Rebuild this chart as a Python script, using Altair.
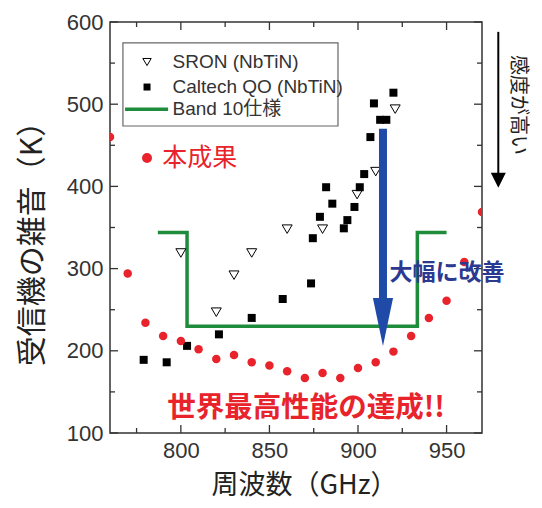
import altair as alt
import pandas as pd

# ---------------- data ----------------
ours_freq = [760, 770, 780, 790, 800, 810, 820, 830, 840, 850, 860,
             870, 880, 890, 900, 910, 920, 930, 940, 950, 960, 970]
ours_trx = [460, 294, 234, 218, 212, 202, 190, 195, 186, 182, 175,
            167, 173, 167, 179, 186, 199, 218, 240, 261, 308, 369]

caltech_freq = [779, 792, 803.5, 821.5, 840, 857.5, 873.5, 874.5, 878.5, 882, 885.5,
                892, 894, 898, 901, 903.5, 907, 909, 912.5, 916, 920]
caltech_trx = [189, 186, 206, 220, 240, 263, 282, 337, 363, 399, 379,
               349, 359, 375, 399, 415, 460, 501, 481, 481, 514]

sron_freq = [800, 820, 830, 840, 860, 880, 899.5, 910, 921]
sron_trx = [319, 247, 292, 319, 348, 348, 390, 418, 494]

band10_freq = [787, 803.5, 803.5, 933.5, 933.5, 950]
band10_trx = [344, 344, 230, 230, 344, 344]

x_major = [800, 850, 900, 950]
x_minor = [775, 825, 875, 925]
y_major = [100, 200, 300, 400, 500, 600]
y_minor = [150, 250, 350, 450, 550]

legend_labels = ["SRON (NbTiN)", "Caltech QO (NbTiN)", "Band 10仕様"]

# ---------------- styling ----------------
W, H = 372, 411
XMIN, XMAX = 760, 970
YMIN, YMAX = 100, 600
xpp = (XMAX - XMIN) / W   # GHz per pixel
ypp = (YMAX - YMIN) / H   # K per pixel

RED = "#e8232b"
GREEN = "#1e8c3a"
BLUE = "#1f4aa8"
NAVY = "#2b3990"
INK = "#333333"
CJK = "Noto Sans CJK JP"
LAT = "Liberation Sans, Noto Sans CJK JP"

XS = alt.Scale(domain=[XMIN, XMAX], nice=False, zero=False)
YS = alt.Scale(domain=[YMIN, YMAX], nice=False, zero=False)

x_axis = alt.Axis(values=x_major, labelFont=LAT, labelFontSize=22, labelColor=INK,
                  labelPadding=7, ticks=False, tickSize=0, domain=False, grid=False,
                  title="周波数（GHz）", titleFont=CJK, titleFontSize=27,
                  titleFontWeight="normal", titleColor="#222222",
                  titleX=194, titleY=52, titleBaseline="middle")
y_axis = alt.Axis(values=y_major, labelFont=LAT, labelFontSize=22, labelColor=INK,
                  labelPadding=7, ticks=False, tickSize=0, domain=False, grid=False,
                  title="受信機の雑音（K）", titleFont=CJK, titleFontSize=30,
                  titleFontWeight="normal", titleColor="#222222",
                  titleX=-78, titleY=214, titleBaseline="middle")


def X(f):
    return alt.X(f, type="quantitative", scale=XS, axis=x_axis)


def Y(f):
    return alt.Y(f, type="quantitative", scale=YS, axis=y_axis)


# ---------------- data layers ----------------
ours_df = pd.DataFrame({"f": ours_freq, "t": ours_trx})
cal_df = pd.DataFrame({"f": caltech_freq, "t": caltech_trx})
sron_df = pd.DataFrame({"f": sron_freq, "t": sron_trx})
band_df = pd.DataFrame({"f": band10_freq, "t": band10_trx, "o": list(range(len(band10_freq)))})

tri_path = "M-1,-0.85L1,-0.85L0,0.85Z"

band = alt.Chart(band_df).mark_line(color=GREEN, strokeWidth=3.5, clip=True).encode(
    x=X("f"), y=Y("t"), order="o:Q")

sron = alt.Chart(sron_df).mark_point(shape=tri_path, size=100, filled=True, fill="white",
                                     stroke="black", strokeWidth=1, opacity=1, clip=True).encode(
    x=X("f"), y=Y("t"))

cal = alt.Chart(cal_df).mark_point(shape="square", size=64, filled=True, color="black",
                                   opacity=1, clip=True).encode(x=X("f"), y=Y("t"))

ours = alt.Chart(ours_df).mark_circle(size=72, color=RED, opacity=1, clip=True).encode(
    x=X("f"), y=Y("t"))

# ---------------- inward ticks on all four sides ----------------
def xticks(vals, length):
    rows = []
    for v in vals:
        rows.append({"f": v, "t": YMIN, "t2": YMIN + length * ypp})
        rows.append({"f": v, "t": YMAX, "t2": YMAX - length * ypp})
    return rows


def yticks(vals, length):
    rows = []
    for v in vals:
        rows.append({"t": v, "f": XMIN, "f2": XMIN + length * xpp})
        rows.append({"t": v, "f": XMAX, "f2": XMAX - length * xpp})
    return rows


xt_df = pd.DataFrame(xticks(x_major, 8) + xticks(x_minor, 5))
yt_df = pd.DataFrame(yticks(y_major, 8) + yticks(y_minor, 5))

xt = alt.Chart(xt_df).mark_rule(color=INK, strokeWidth=1.3).encode(
    x=X("f"), y=Y("t"), y2="t2")
yt = alt.Chart(yt_df).mark_rule(color=INK, strokeWidth=1.3).encode(
    y=Y("t"), x=X("f"), x2="f2")

# ---------------- legend box ----------------
leg_box = alt.Chart(pd.DataFrame({"f": [767.3], "f2": [888.7], "t": [473.5], "t2": [574.5]})).mark_rect(
    fill="white", stroke="#666666", strokeWidth=1.2).encode(x=X("f"), x2="f2", y=Y("t"), y2="t2")

leg_tri = alt.Chart(pd.DataFrame({"f": [780.9], "t": [551.3]})).mark_point(
    shape=tri_path, size=70, filled=True, fill="white", stroke="black", strokeWidth=1,
    opacity=1).encode(x=X("f"), y=Y("t"))
leg_sq = alt.Chart(pd.DataFrame({"f": [780.9], "t": [520.9]})).mark_point(
    shape="square", size=49, filled=True, color="black", opacity=1).encode(x=X("f"), y=Y("t"))
leg_line = alt.Chart(pd.DataFrame({"f": [768.5], "f2": [792.8], "t": [494.0]})).mark_rule(
    color=GREEN, strokeWidth=3.5).encode(x=X("f"), x2="f2", y=Y("t"))
leg_text = alt.Chart(pd.DataFrame({"f": [795.3] * 3, "t": [551.3, 520.9, 494.0],
                                   "label": legend_labels})).mark_text(
    align="left", baseline="middle", font=LAT, fontSize=19, color=INK).encode(
    x=X("f"), y=Y("t"), text="label:N")

# ---------------- annotations ----------------
ours_dot = alt.Chart(pd.DataFrame({"f": [780.9], "t": [434.5]})).mark_circle(
    size=100, color=RED, opacity=1).encode(x=X("f"), y=Y("t"))
ours_lbl = alt.Chart(pd.DataFrame({"f": [789.5], "t": [434.5], "label": ["本成果"]})).mark_text(
    align="left", baseline="middle", font=CJK, fontSize=25, color=RED).encode(
    x=X("f"), y=Y("t"), text="label:N")

best_lbl = alt.Chart(pd.DataFrame({"f": [870.7], "t": [131], "label": ["世界最高性能の達成!!"]})).mark_text(
    align="center", baseline="middle", font=CJK, fontSize=28.5, fontWeight="bold", color=RED).encode(
    x=X("f"), y=Y("t"), text="label:N")

# blue arrow
blue_shaft = alt.Chart(pd.DataFrame({"f": [914.1], "t": [470], "t2": [262]})).mark_rule(
    color=BLUE, strokeWidth=8, strokeCap="butt").encode(x=X("f"), y=Y("t"), y2="t2")
blue_head = alt.Chart(pd.DataFrame({"f": [914.1], "t": [235]})).mark_point(
    shape="M-0.42,-1L0.42,-1L0,1Z", size=2304, filled=True, color=BLUE, opacity=1,
    strokeWidth=0).encode(x=X("f"), y=Y("t"))
blue_lbl = alt.Chart(pd.DataFrame({"f": [917.8], "t": [295], "label": ["大幅に改善"]})).mark_text(
    align="left", baseline="middle", font=CJK, fontSize=23, fontWeight="bold", color=NAVY).encode(
    x=X("f"), y=Y("t"), text="label:N")

# black arrow outside the frame
blk_shaft = alt.Chart(pd.DataFrame({"f": [979.2], "t": [588], "t2": [414]})).mark_rule(
    color="black", strokeWidth=2).encode(x=X("f"), y=Y("t"), y2="t2")
blk_head = alt.Chart(pd.DataFrame({"f": [979.2], "t": [407.5]})).mark_point(
    shape="M-1,-1L1,-1L0,1Z", size=225, filled=True, color="black", opacity=1,
    strokeWidth=0).encode(x=X("f"), y=Y("t"))
blk_lbl = alt.Chart(pd.DataFrame({"f": [990.2], "t": [499], "label": ["感度が高い"]})).mark_text(
    align="center", baseline="middle", angle=90, font=CJK, fontSize=20, color="#222222").encode(
    x=X("f"), y=Y("t"), text="label:N")

chart = alt.layer(
    band, sron, cal, ours, xt, yt,
    leg_box, leg_tri, leg_sq, leg_line, leg_text,
    ours_dot, ours_lbl, best_lbl,
    blue_shaft, blue_head, blue_lbl,
    blk_shaft, blk_head, blk_lbl,
).properties(
    width=W, height=H,
    padding={"left": 102, "top": 14, "right": 52, "bottom": 67},
    autosize=alt.AutoSizeParams(type="none"),
    background="white",
).configure_view(stroke=INK, strokeWidth=1.5)

chart.save("out.html", embed_options={"renderer": "svg", "actions": False})
